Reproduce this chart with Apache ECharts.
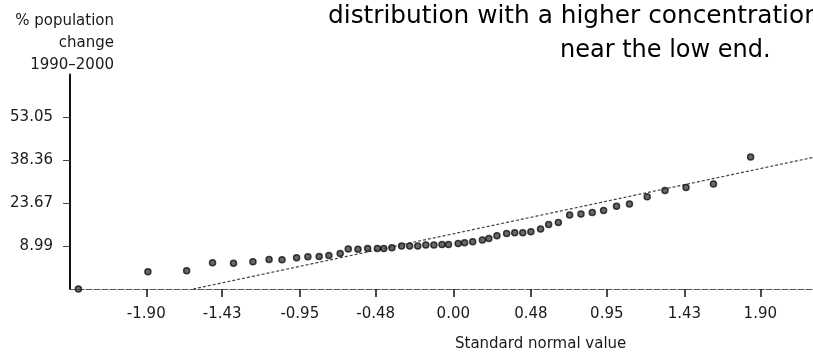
<!DOCTYPE html>
<html>
<head>
<meta charset="utf-8">
<script src="https://cdn.jsdelivr.net/npm/echarts@6/dist/echarts.min.js"></script>
<style>
  html, body { margin: 0; padding: 0; background: #fff; }
  #chart { width: 813px; height: 352px; }
</style>
</head>
<body>
<div id="chart"></div>
<script>
// normal scores (x) and % population change 1990-2000 (y)
const normalScores = [
  -2.32, -1.89, -1.65, -1.49, -1.36, -1.24, -1.14, -1.06, -0.97, -0.90,
  -0.83, -0.77, -0.70, -0.65, -0.59, -0.53, -0.47, -0.43, -0.38, -0.32,
  -0.27, -0.22, -0.17, -0.12, -0.07, -0.03, 0.03, 0.07, 0.12, 0.18,
  0.22, 0.27, 0.33, 0.38, 0.43, 0.48, 0.54, 0.59, 0.65, 0.72,
  0.79, 0.86, 0.93, 1.01, 1.09, 1.20, 1.31, 1.44, 1.61, 1.84
]
const popChange = [
  -5.70, 0.19, 0.53, 3.27, 3.10, 3.61, 4.37, 4.33, 4.98, 5.33,
  5.39, 5.77, 6.49, 7.96, 7.89, 8.13, 8.20, 8.20, 8.41, 8.99,
  8.99, 8.99, 9.33, 9.33, 9.50, 9.57, 9.91, 10.12, 10.46, 11.04,
  11.63, 12.52, 13.34, 13.55, 13.55, 13.89, 14.81, 16.42, 17.11, 19.61,
  19.95, 20.53, 21.15, 22.59, 23.37, 25.87, 27.99, 29.09, 30.22, 39.47
]
// reference line end points
const lineX = [-1.61, 2.23]
const lineY = [-5.70, 39.40]

const xTicks = [-1.90, -1.43, -0.95, -0.48, 0.00, 0.48, 0.95, 1.43, 1.90]
const yTicks = [8.99, 23.67, 38.36, 53.05]
const yMin = -5.70
const yMax = 67.74
const xMin = -2.372
const xMax = 2.226

const yNameLines = ['% population', 'change', '1990–2000']

const font = 'DejaVu Sans'
const chart = echarts.init(document.getElementById('chart'))

const yNameGraphics = yNameLines.map((line, i) => ({
  type: 'text',
  right: 813 - 114,
  top: 14 + i * 22,
  style: { text: line, font: '15px "DejaVu Sans"', fill: '#1a1a1a' }
}))

chart.setOption({
  animation: false,
  backgroundColor: '#fff',
  grid: { left: 70, right: 0, top: 74.5, bottom: 63 },
  xAxis: {
    type: 'value',
    min: xMin,
    max: xMax,
    axisLine: { show: true, onZero: false, lineStyle: { color: '#555', width: 1.2, type: [6, 2] } },
    axisTick: { show: true, customValues: xTicks, length: 8, lineStyle: { color: '#111', width: 1.5 } },
    axisLabel: {
      customValues: xTicks,
      formatter: (v) => v.toFixed(2),
      margin: 18,
      fontFamily: font,
      fontSize: 15,
      color: '#1a1a1a'
    },
    splitLine: { show: false }
  },
  yAxis: {
    type: 'value',
    min: yMin,
    max: yMax,
    axisLine: { show: true, onZero: false, lineStyle: { color: '#111', width: 2 } },
    axisTick: { show: true, customValues: yTicks, length: 7, lineStyle: { color: '#444', width: 1 } },
    axisLabel: {
      customValues: yTicks,
      formatter: (v) => v.toFixed(2),
      margin: 17,
      fontFamily: font,
      fontSize: 15,
      color: '#1a1a1a'
    },
    splitLine: { show: false }
  },
  graphic: [
    ...yNameGraphics,
    {
      type: 'text',
      left: 455,
      top: 337,
      style: {
        text: 'Standard normal value',
        align: 'center',
        font: '15px "DejaVu Sans"',
        fill: '#1a1a1a'
      }
    },
    {
      type: 'text',
      left: 328,
      top: 4,
      style: { text: 'distribution with a higher concentration', font: '24.8px "DejaVu Sans"', fill: '#000' }
    },
    {
      type: 'text',
      left: 560,
      top: 39,
      style: { text: 'near the low end.', font: '24px "DejaVu Sans"', fill: '#000' }
    }
  ],
  series: [
    {
      type: 'line',
      data: lineX.map((x, i) => [x, lineY[i]]),
      showSymbol: false,
      silent: true,
      lineStyle: { color: '#444', width: 1.2, type: [3, 2] },
      z: 1
    },
    {
      type: 'scatter',
      data: normalScores.map((x, i) => [x, popChange[i]]),
      symbol: 'circle',
      symbolSize: 6,
      itemStyle: { color: '#444', borderColor: '#111', borderWidth: 1.5 },
      z: 2
    }
  ]
})
</script>
</body>
</html>
